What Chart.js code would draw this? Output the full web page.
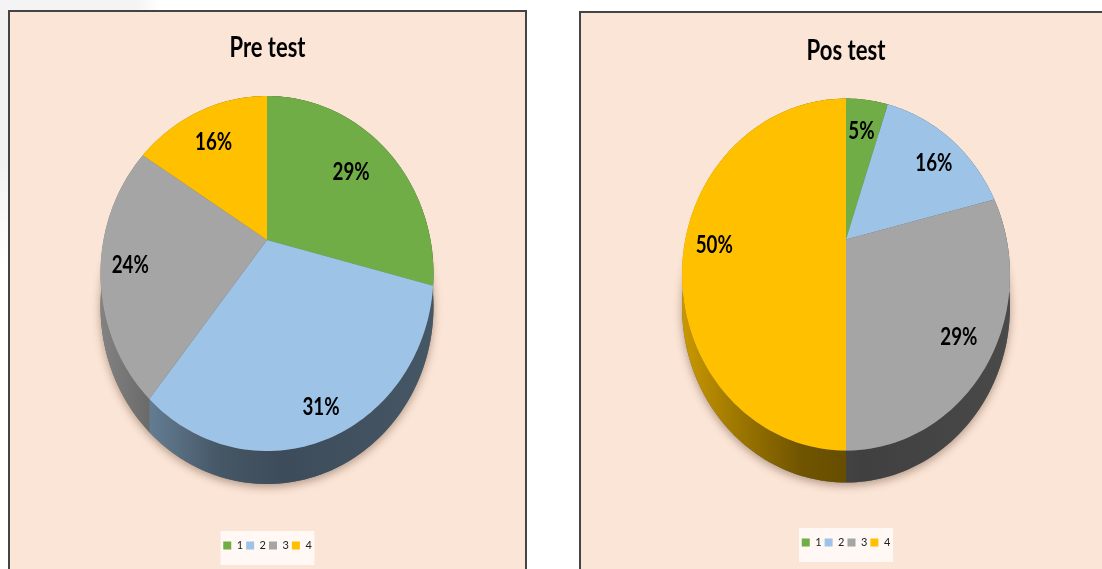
<!DOCTYPE html>
<html lang="en">
<head>
  <meta charset="UTF-8" />
  <title>Pre test / Pos test</title>
  <script src="https://cdn.jsdelivr.net/npm/chart.js"></script>
  <style>
    html, body { margin: 0; height: 100%; overflow: hidden; background: #fff; }
    .mark { position: absolute; left: 0; top: 0; }
    #markLeft { width: 9px; height: 270px; background: linear-gradient(#f2f2f2 60%, #fff); }
    #markTop { width: 160px; height: 11px; background: linear-gradient(90deg, #f4f4f4 85%, #fff); }
    .panel { position: absolute; box-sizing: border-box; background: #fbe5d6; border: solid #444; border-width: 2px 2px 0 2px; overflow: hidden; }
    #prePanel { left: 8px; top: 10px; width: 519px; height: 559px; }
    #posPanel { left: 579px; top: 11px; width: 534px; height: 558px; }
    canvas { display: block; filter: blur(0.5px); }
  </style>
</head>
<body>
  <div class="mark" id="markLeft"></div>
  <div class="mark" id="markTop"></div>
  <div class="panel" id="prePanel"><canvas id="preChart" width="515" height="557"></canvas></div>
  <div class="panel" id="posPanel"><canvas id="posChart" width="530" height="556"></canvas></div>

  <script>
    const categories = ['1', '2', '3', '4'];
    const preValues = [29.1, 31.4, 23.7, 15.8];
    const posValues = [5, 16, 29, 50];
    const sliceColors = ['#70ad47', '#9dc3e6', '#a5a5a5', '#ffc000'];
    const labelFont = 'Lato, "Liberation Sans", sans-serif';

    // point on the tilted disc, f = fraction of the radius
    function project(v, angle, f, down) {
      const w = 1 - v.k * f * Math.sin(angle);
      return {
        x: v.cx + v.rx * f * Math.cos(angle) / w,
        y: v.cy + v.ry * f * Math.sin(angle) / w + (down || 0)
      };
    }

    function rimPath(ctx, v, a0, a1, down, first) {
      const steps = Math.max(2, Math.ceil(Math.abs(a1 - a0) * 40));
      for (let i = 0; i <= steps; i++) {
        const p = project(v, a0 + (a1 - a0) * i / steps, 1, down);
        if (i === 0 && first) ctx.moveTo(p.x, p.y);
        else ctx.lineTo(p.x, p.y);
      }
    }

    function shade(hex, t) {
      const n = parseInt(hex.slice(1), 16);
      return `rgb(${(n >> 16) * t}, ${((n >> 8) & 255) * t}, ${(n & 255) * t})`;
    }

    // the library lays out the arcs, this draws them with a perspective tilt and a side wall
    const tiltedPie = {
      id: 'tiltedPie',
      beforeDraw(chart, args, opts) {
        const l = chart.legend;
        const mid = (l.left + l.right) / 2;
        chart.ctx.fillStyle = '#fff8f4';
        chart.ctx.fillRect(mid - 47, l.top + l.height / 2 - 18, 94, 34);
        // title text is squeezed to this width by fillText's maxWidth (the source font is condensed)
        chart.titleBlock.left = mid - opts.titleWidth / 2;
        chart.titleBlock.right = mid + opts.titleWidth / 2;
      },
      beforeDatasetDraw(chart, args, opts) {
        const ctx = chart.ctx;
        const arcs = chart.getDatasetMeta(0).data;
        const colors = chart.data.datasets[0].backgroundColor;

        // soft shadow under the whole disc
        ctx.save();
        ctx.shadowColor = 'rgba(90, 60, 40, 0.45)';
        ctx.shadowBlur = 9;
        ctx.shadowOffsetY = 3;
        ctx.fillStyle = '#666';
        ctx.beginPath();
        rimPath(ctx, opts, 0, Math.PI * 2, opts.depth, true);
        ctx.closePath();
        ctx.fill();
        ctx.restore();

        arcs.forEach((arc, i) => {
          const grad = ctx.createLinearGradient(opts.cx - opts.rx, 0, opts.cx + opts.rx, 0);
          grad.addColorStop(0, shade(colors[i], 0.78));
          grad.addColorStop(0.14, shade(colors[i], 0.64));
          grad.addColorStop(0.36, shade(colors[i], 0.44));
          grad.addColorStop(0.55, shade(colors[i], 0.39));
          grad.addColorStop(1, shade(colors[i], 0.44));
          ctx.fillStyle = grad;
          ctx.beginPath();
          rimPath(ctx, opts, arc.startAngle, arc.endAngle, 0, true);
          rimPath(ctx, opts, arc.endAngle, arc.startAngle, opts.depth, false);
          ctx.closePath();
          ctx.fill();
        });

        arcs.forEach((arc, i) => {
          const c = project(opts, 0, 0);
          ctx.fillStyle = colors[i];
          ctx.beginPath();
          ctx.moveTo(c.x, c.y);
          rimPath(ctx, opts, arc.startAngle, arc.endAngle, 0, false);
          ctx.closePath();
          ctx.fill();
        });
        return false;
      },
      afterDatasetsDraw(chart, args, opts) {
        const ctx = chart.ctx;
        const values = chart.data.datasets[0].data;
        ctx.fillStyle = '#000';
        ctx.font = `bold 25px ${labelFont}`;
        ctx.textAlign = 'center';
        ctx.textBaseline = 'middle';
        chart.getDatasetMeta(0).data.forEach((arc, i) => {
          const p = project(opts, (arc.startAngle + arc.endAngle) / 2, opts.labelAt[i]);
          const text = Math.round(values[i]) + '%';
          const [dx, dy] = opts.labelNudge[i];
          ctx.fillText(text, p.x + dx, p.y + dy, ctx.measureText(text).width * 0.75);
        });
      }
    };

    function drawPie(id, title, values, view) {
      return new Chart(document.getElementById(id), {
        type: 'pie',
        data: {
          labels: categories,
          datasets: [{ data: values, backgroundColor: sliceColors, borderWidth: 0 }]
        },
        plugins: [tiltedPie],
        options: {
          responsive: false,
          animation: false,
          events: [],
          layout: { padding: { bottom: view.legendPad } },
          plugins: {
            tooltip: { enabled: false },
            title: {
              display: true,
              text: title,
              color: '#000',
              font: { family: labelFont, size: 28, weight: 'bold' },
              padding: { top: view.titleTop, bottom: 10 }
            },
            legend: {
              position: 'bottom',
              labels: {
                boxWidth: 8,
                boxHeight: 8,
                padding: 3,
                color: '#222',
                font: { family: labelFont, size: 11 }
              }
            },
            tiltedPie: view
          }
        }
      });
    }

    drawPie('preChart', 'Pre test', preValues, {
      cx: 257, cy: 228, rx: 163.5, ry: 171.2, k: 0.1887, depth: 33,
      labelAt: [0.72, 0.87, 0.82, 0.74],
      labelNudge: [[-2, 1], [0, 0], [-1, 1], [-2, 1]],
      titleWidth: 76, titleTop: 19, legendPad: 8
    });
    drawPie('posChart', 'Pos test', posValues, {
      cx: 265, cy: 226.5, rx: 160.7, ry: 169, k: 0.199, depth: 32,
      labelAt: [0.75, 0.72, 0.84, 0.82],
      labelNudge: [[-1, 1], [11, -1], [-6, 0], [0, 5]],
      titleWidth: 79, titleTop: 21, legendPad: 11
    });
  </script>
</body>
</html>
